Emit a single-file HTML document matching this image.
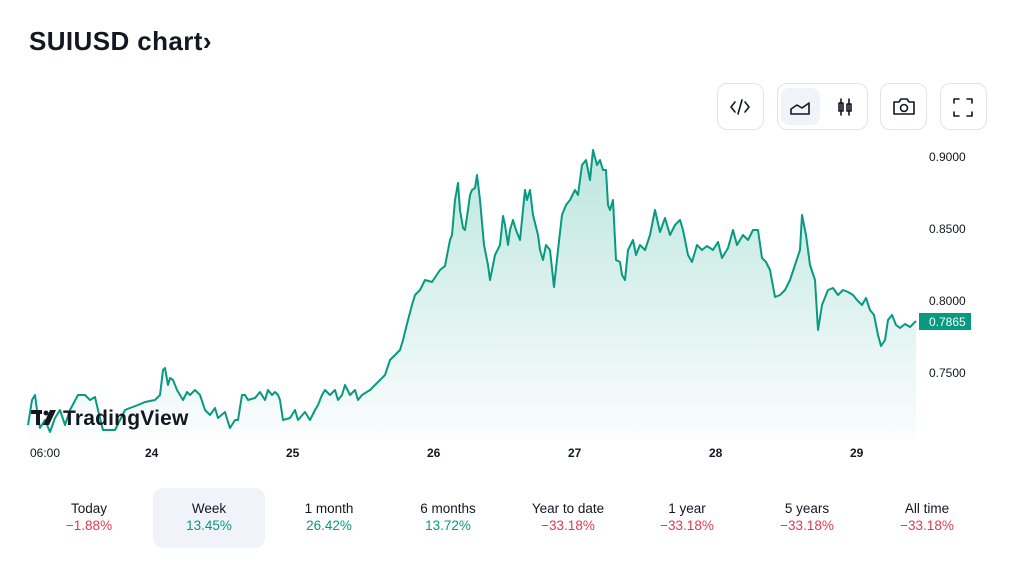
<!DOCTYPE html>
<html><head><meta charset="utf-8"><style>
body{margin:0;width:1024px;height:576px;background:#fff;font-family:"Liberation Sans","DejaVu Sans",sans-serif;color:#131722;position:relative;overflow:hidden}
.t{position:absolute;left:29px;top:26px;font-size:26px;font-weight:bold;letter-spacing:0.4px}
.btn{position:absolute;top:83px;height:47px;border:1px solid #e0e3eb;border-radius:10px;box-sizing:border-box;background:#fff}
.pl{position:absolute;left:929px;font-size:12px;color:#131722}
.xl{position:absolute;top:446px;font-size:12px;font-weight:bold;color:#131722}
.per{position:absolute;top:488px;width:112px;height:60px;text-align:center;font-size:13.5px;border-radius:10px}
.per div:first-child{margin-top:13px;color:#131722}
.per div:last-child{margin-top:2px}
.r{color:#e03a4e}.g{color:#089981}
</style></head><body>
<div class="t">SUIUSD chart›</div>
<div class="btn" style="left:717px;width:47px"></div>
<div class="btn" style="left:777px;width:91px"></div>
<div style="position:absolute;left:781px;top:88px;width:39px;height:37px;background:#f0f3fa;border-radius:8px"></div>
<div class="btn" style="left:880px;width:47px"></div>
<div class="btn" style="left:940px;width:47px"></div>
<svg style="position:absolute;left:0;top:0" width="1024" height="576">
<g fill="none" stroke="#131722" stroke-width="1.6" stroke-linecap="round" stroke-linejoin="round">
<path d="M735 102l-4 5 4 5M745 102l4 5-4 5M742 100l-4 14"/>
<path d="M791 114v-5l6-4 5 3 7-5v11z"/>
<path d="M841 99v16M849 99v16"/><rect x="839" y="103" width="4" height="8"/><rect x="847" y="104" width="4" height="7"/>
<path d="M894 102h5l2-3h6l2 3h5v12h-20z"/><circle cx="904" cy="108" r="3.5"/>
<path d="M954 103v-4h5M967 99h5v4M972 112v4h-5M959 116h-5v-4"/>
</g>
<defs><linearGradient id="gr" x1="0" y1="0" x2="0" y2="1"><stop offset="0" stop-color="#22ab94" stop-opacity="0.3"/><stop offset="1" stop-color="#22ab94" stop-opacity="0.02"/></linearGradient></defs>
<polygon fill="url(#gr)" points="28,440 28,425 32,400 35,395 37,410 40,428 45,420 50,432 55,418 60,410 65,425 70,410 78,395 85,395 90,400 95,397 98,410 103,430 115,430 120,420 125,410 130,408 138,405 145,402 155,400 160,395 163,370 165,368 168,385 170,378 173,380 177,390 180,395 183,400 187,392 190,395 195,390 200,395 205,410 210,415 215,408 218,418 225,412 228,422 230,428 235,420 238,420 242,395 245,395 248,400 255,398 260,392 265,400 268,390 272,395 275,392 278,395 280,400 283,420 290,418 295,410 298,420 305,412 310,420 315,410 318,405 322,395 325,390 330,395 335,390 338,400 342,395 345,385 350,395 355,390 358,400 362,395 370,390 375,385 380,380 385,375 390,360 395,355 400,350 403,340 408,320 412,305 415,295 420,290 425,280 432,282 440,270 445,266 450,240 452,235 455,200 458,183 460,210 463,228 465,230 468,210 470,195 472,190 475,188 477,175 480,200 484,245 488,265 490,280 495,255 500,245 503,216 505,225 508,245 510,230 513,220 516,230 520,240 525,190 527,200 530,190 533,215 538,235 540,250 543,260 546,245 550,250 554,287 558,250 562,215 566,205 570,200 575,190 578,195 582,165 586,160 590,180 593,150 597,165 600,160 603,170 606,170 608,205 610,210 613,200 616,260 620,262 622,275 625,280 628,250 633,240 636,255 640,245 645,250 650,235 655,210 660,232 665,218 670,235 675,225 680,220 683,230 688,255 692,262 697,245 702,250 707,246 713,250 718,242 722,258 728,248 733,230 737,245 743,235 748,240 753,230 758,230 762,258 766,262 770,270 775,297 780,295 785,290 790,280 795,265 800,250 802,215 806,235 810,265 815,280 818,330 822,305 828,290 833,288 838,295 843,290 848,292 853,295 857,300 862,305 866,298 870,310 874,315 878,335 881,346 885,340 888,320 892,315 896,325 900,328 905,324 910,327 916,321 916,440"/>
<polyline fill="none" stroke="#089981" stroke-width="2" stroke-linejoin="round" points="28,425 32,400 35,395 37,410 40,428 45,420 50,432 55,418 60,410 65,425 70,410 78,395 85,395 90,400 95,397 98,410 103,430 115,430 120,420 125,410 130,408 138,405 145,402 155,400 160,395 163,370 165,368 168,385 170,378 173,380 177,390 180,395 183,400 187,392 190,395 195,390 200,395 205,410 210,415 215,408 218,418 225,412 228,422 230,428 235,420 238,420 242,395 245,395 248,400 255,398 260,392 265,400 268,390 272,395 275,392 278,395 280,400 283,420 290,418 295,410 298,420 305,412 310,420 315,410 318,405 322,395 325,390 330,395 335,390 338,400 342,395 345,385 350,395 355,390 358,400 362,395 370,390 375,385 380,380 385,375 390,360 395,355 400,350 403,340 408,320 412,305 415,295 420,290 425,280 432,282 440,270 445,266 450,240 452,235 455,200 458,183 460,210 463,228 465,230 468,210 470,195 472,190 475,188 477,175 480,200 484,245 488,265 490,280 495,255 500,245 503,216 505,225 508,245 510,230 513,220 516,230 520,240 525,190 527,200 530,190 533,215 538,235 540,250 543,260 546,245 550,250 554,287 558,250 562,215 566,205 570,200 575,190 578,195 582,165 586,160 590,180 593,150 597,165 600,160 603,170 606,170 608,205 610,210 613,200 616,260 620,262 622,275 625,280 628,250 633,240 636,255 640,245 645,250 650,235 655,210 660,232 665,218 670,235 675,225 680,220 683,230 688,255 692,262 697,245 702,250 707,246 713,250 718,242 722,258 728,248 733,230 737,245 743,235 748,240 753,230 758,230 762,258 766,262 770,270 775,297 780,295 785,290 790,280 795,265 800,250 802,215 806,235 810,265 815,280 818,330 822,305 828,290 833,288 838,295 843,290 848,292 853,295 857,300 862,305 866,298 870,310 874,315 878,335 881,346 885,340 888,320 892,315 896,325 900,328 905,324 910,327 916,321"/>
<g fill="#131722"><rect x="31" y="410" width="11" height="4"/><rect x="36" y="410" width="4" height="15"/><circle cx="46" cy="413" r="2.5"/><path d="M50 410h6l-7 15h-6z"/></g>
<text x="63" y="425" font-family="Liberation Sans,sans-serif" font-size="21" font-weight="bold" fill="#131722" letter-spacing="0.2">TradingView</text>
<rect x="919" y="313" width="52" height="17" fill="#089981"/>
<text x="929" y="326" font-family="Liberation Sans,sans-serif" font-size="12" fill="#fff">0.7865</text>
</svg>
<div class="pl" style="top:150px">0.9000</div>
<div class="pl" style="top:222px">0.8500</div>
<div class="pl" style="top:294px">0.8000</div>
<div class="pl" style="top:366px">0.7500</div>
<div class="xl" style="left:30px;font-weight:normal">06:00</div>
<div class="xl" style="left:145px">24</div>
<div class="xl" style="left:286px">25</div>
<div class="xl" style="left:427px">26</div>
<div class="xl" style="left:568px">27</div>
<div class="xl" style="left:709px">28</div>
<div class="xl" style="left:850px">29</div>
<div class="per" style="left:33px"><div>Today</div><div class="r">−1.88%</div></div>
<div class="per" style="left:153px;background:#f0f3fa"><div>Week</div><div class="g">13.45%</div></div>
<div class="per" style="left:273px"><div>1 month</div><div class="g">26.42%</div></div>
<div class="per" style="left:392px"><div>6 months</div><div class="g">13.72%</div></div>
<div class="per" style="left:512px"><div>Year to date</div><div class="r">−33.18%</div></div>
<div class="per" style="left:631px"><div>1 year</div><div class="r">−33.18%</div></div>
<div class="per" style="left:751px"><div>5 years</div><div class="r">−33.18%</div></div>
<div class="per" style="left:871px"><div>All time</div><div class="r">−33.18%</div></div>
</body></html>
